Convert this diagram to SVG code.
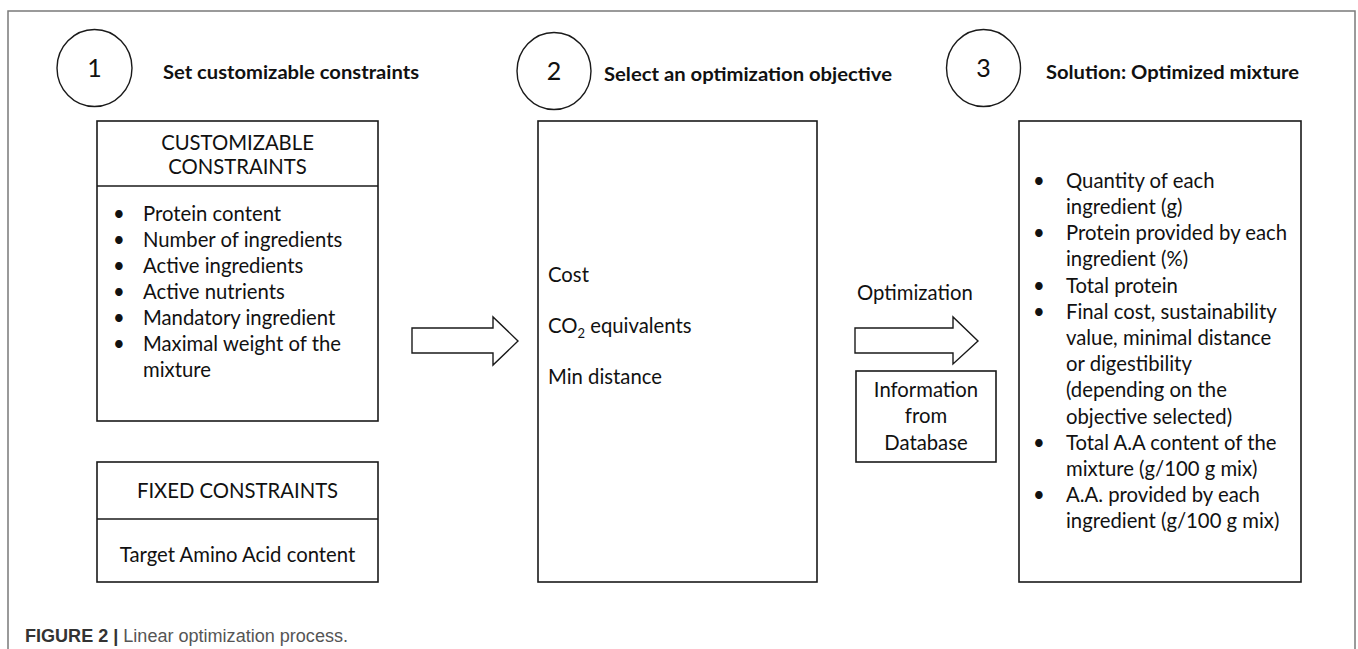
<svg xmlns="http://www.w3.org/2000/svg" width="1358" height="649" viewBox="0 0 1358 649">
<style>
.frame{fill:none;stroke:#7a7a7a;stroke-width:1.5}
.box{fill:#fff;stroke:#1a1a1a;stroke-width:1.6}
.circ{fill:#fff;stroke:#1a1a1a;stroke-width:1.4}
.arrow{fill:#fff;stroke:#1a1a1a;stroke-width:1.4;stroke-linejoin:miter}
text{font-family:Lato,"Open Sans","Liberation Sans",sans-serif;fill:#111}
.t{font-size:20.3px}
.h{font-size:19.5px;font-weight:bold}
.num{font-size:25px}
.c{text-anchor:middle}
.cap{font-family:"Liberation Sans",Arial,sans-serif;font-size:17.5px}
</style>
<rect x="0" y="0" width="1358" height="649" fill="#fff"/>
<rect class="frame" x="8" y="11" width="1347" height="660"/>

<g id="step1">
  <ellipse class="circ" cx="94.5" cy="68" rx="37.5" ry="38.5"/>
  <text class="num c" x="94.5" y="77">1</text>
  <text class="h" x="163" y="79" textLength="256" lengthAdjust="spacingAndGlyphs">Set customizable constraints</text>
</g>

<g id="customizable-constraints">
  <rect class="box" x="97" y="121" width="281" height="300"/>
  <line class="box" x1="97" y1="186" x2="378" y2="186"/>
  <text class="t c" x="237.5" y="150">CUSTOMIZABLE</text>
  <text class="t c" x="237.5" y="174">CONSTRAINTS</text>
  <text class="t" x="113" y="221">•</text><text class="t" x="143" y="221">Protein content</text>
  <text class="t" x="113" y="247">•</text><text class="t" x="143" y="247">Number of ingredients</text>
  <text class="t" x="113" y="273">•</text><text class="t" x="143" y="273">Active ingredients</text>
  <text class="t" x="113" y="299">•</text><text class="t" x="143" y="299">Active nutrients</text>
  <text class="t" x="113" y="325">•</text><text class="t" x="143" y="325">Mandatory ingredient</text>
  <text class="t" x="113" y="351">•</text><text class="t" x="143" y="351">Maximal weight of the</text>
  <text class="t" x="143" y="377">mixture</text>
</g>

<g id="fixed-constraints">
  <rect class="box" x="97" y="462" width="281" height="120"/>
  <line class="box" x1="97" y1="519" x2="378" y2="519"/>
  <text class="t c" x="237.5" y="498">FIXED CONSTRAINTS</text>
  <text class="t c" x="237.5" y="562">Target Amino Acid content</text>
</g>

<g id="step2">
  <ellipse class="circ" cx="554" cy="71" rx="37" ry="38.5"/>
  <text class="num c" x="554" y="80">2</text>
  <text class="h" x="604" y="81" textLength="288" lengthAdjust="spacingAndGlyphs">Select an optimization objective</text>
</g>

<g id="objective">
  <rect class="box" x="538" y="121" width="279" height="461"/>
  <text class="t" x="548" y="282">Cost</text>
  <text class="t" x="548" y="333">CO<tspan font-size="13" dy="5">2</tspan><tspan dy="-5"> equivalents</tspan></text>
  <text class="t" x="548" y="384">Min distance</text>
</g>

<g id="database">
  <rect class="box" x="856" y="371" width="140" height="91"/>
  <text class="t c" x="926" y="397">Information</text>
  <text class="t c" x="926" y="423">from</text>
  <text class="t c" x="926" y="450">Database</text>
</g>

<g id="step3">
  <ellipse class="circ" cx="983.5" cy="68" rx="37" ry="38.5"/>
  <text class="num c" x="983.5" y="77">3</text>
  <text class="h" x="1046" y="79" textLength="253" lengthAdjust="spacingAndGlyphs">Solution: Optimized mixture</text>
</g>

<g id="solution">
  <rect class="box" x="1019" y="121" width="282" height="461"/>
  <text class="t" x="1033" y="188">•</text><text class="t" x="1066" y="188">Quantity of each</text>
  <text class="t" x="1066" y="214">ingredient (g)</text>
  <text class="t" x="1033" y="240">•</text><text class="t" x="1066" y="240">Protein provided by each</text>
  <text class="t" x="1066" y="266">ingredient (%)</text>
  <text class="t" x="1033" y="293">•</text><text class="t" x="1066" y="293">Total protein</text>
  <text class="t" x="1033" y="319">•</text><text class="t" x="1066" y="319">Final cost, sustainability</text>
  <text class="t" x="1066" y="345">value, minimal distance</text>
  <text class="t" x="1066" y="371">or digestibility</text>
  <text class="t" x="1066" y="397">(depending on the</text>
  <text class="t" x="1066" y="424">objective selected)</text>
  <text class="t" x="1033" y="450">•</text><text class="t" x="1066" y="450">Total A.A content of the</text>
  <text class="t" x="1066" y="476">mixture (g/100 g mix)</text>
  <text class="t" x="1033" y="502">•</text><text class="t" x="1066" y="502">A.A. provided by each</text>
  <text class="t" x="1066" y="528">ingredient (g/100 g mix)</text>
</g>

<g id="connectors">
  <path class="arrow" d="M412,328 H493 V317 L518,341 L493,365 V353 H412 Z"/>
  <path class="arrow" d="M855,328 H953 V317 L978,341 L953,364 V353 H855 Z"/>
  <text class="t" x="857" y="300">Optimization</text>
</g>

<text class="cap" x="25" y="642" textLength="323" lengthAdjust="spacingAndGlyphs"><tspan font-weight="bold" fill="#333">FIGURE 2 | </tspan><tspan fill="#555">Linear optimization process.</tspan></text>
</svg>
